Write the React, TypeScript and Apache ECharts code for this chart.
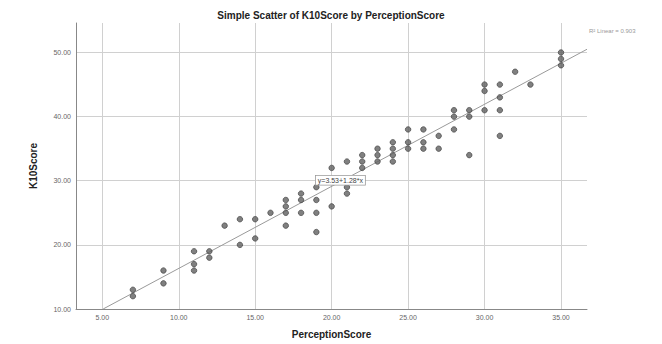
import React, { useEffect, useRef } from "react";
import * as echarts from "echarts";

const xValues = [7, 7, 9, 9, 11, 11, 11, 12, 12, 13, 14, 14, 15, 15, 16, 17, 17, 17, 17, 18, 18, 18, 19, 19, 19, 19, 20, 20, 21, 21, 21, 22, 22, 22, 23, 23, 23, 24, 24, 24, 24, 25, 25, 25, 26, 26, 26, 27, 27, 28, 28, 28, 29, 29, 29, 30, 30, 30, 31, 31, 31, 31, 32, 33, 35, 35, 35];
const yValues = [13, 12, 16, 14, 19, 17, 16, 19, 18, 23, 24, 20, 24, 21, 25, 27, 26, 25, 23, 28, 27, 25, 29, 27, 25, 22, 32, 26, 33, 29, 28, 34, 33, 32, 35, 34, 33, 36, 35, 34, 33, 38, 36, 35, 38, 36, 35, 37, 35, 41, 40, 38, 41, 40, 34, 45, 44, 41, 45, 43, 41, 37, 47, 45, 50, 49, 48];
const fitIntercept = 3.53;
const fitSlope = 1.28;
const xRange = [3.28, 36.7];
const yRange = [10, 54.6];
const titleText = "Simple Scatter of K10Score by PerceptionScore";
const xName = "PerceptionScore";
const yName = "K10Score";
const fitLabel = "y=3.53+1.28*x";
const r2Label = "R\u00B2 Linear = 0.903";

export default function App() {
  const ref = useRef<HTMLDivElement>(null);
  useEffect(() => {
    if (!ref.current) return;
    const chart = echarts.init(ref.current, null, { renderer: "svg" });
    const points = xValues.map((x, i) => [x, yValues[i]]);
    const xStart = (yRange[0] - fitIntercept) / fitSlope;
    const fitLine = [
      [xStart, fitIntercept + fitSlope * xStart],
      [xRange[1], fitIntercept + fitSlope * xRange[1]],
    ];
    const font = "Liberation Sans, Arial, sans-serif";
    chart.setOption({
      animation: false,
      backgroundColor: "#ffffff",
      textStyle: { fontFamily: font },
      title: {
        text: titleText,
        left: "center",
        top: 5,
        textStyle: { fontSize: 10, fontWeight: "bold", color: "#222", fontFamily: font },
      },
      grid: { left: 76, right: 75, top: 23, bottom: 34, containLabel: false },
      xAxis: {
        type: "value",
        min: xRange[0],
        max: xRange[1],
        minInterval: 5,
        maxInterval: 5,
        name: xName,
        nameLocation: "middle",
        nameGap: 20,
        nameTextStyle: { fontSize: 10, fontWeight: "bold", color: "#222" },
        axisLine: { show: true, lineStyle: { color: "#888", width: 1 } },
        axisTick: { show: false },
        axisLabel: {
          fontSize: 7,
          color: "#666",
          margin: 5,
          formatter: (v: number) => (Math.abs(v % 5) < 1e-6 ? v.toFixed(2) : ""),
        },
        splitLine: { show: true, showMinLine: false, showMaxLine: false, lineStyle: { color: "#d0d0d0", width: 1 } },
      },
      yAxis: {
        type: "value",
        min: yRange[0],
        max: yRange[1],
        minInterval: 10,
        maxInterval: 10,
        name: yName,
        nameLocation: "middle",
        nameGap: 38,
        nameTextStyle: { fontSize: 10, fontWeight: "bold", color: "#222" },
        axisLine: { show: true, lineStyle: { color: "#888", width: 1 } },
        axisTick: { show: false },
        axisLabel: {
          fontSize: 7,
          color: "#666",
          margin: 5,
          formatter: (v: number) => (Math.abs(v % 10) < 1e-6 ? v.toFixed(2) : ""),
        },
        splitLine: { show: true, showMinLine: false, showMaxLine: false, lineStyle: { color: "#d0d0d0", width: 1 } },
      },
      series: [
        {
          type: "line",
          data: fitLine,
          symbol: "none",
          silent: true,
          lineStyle: { color: "#9a9a9a", width: 1 },
          z: 1,
        },
        {
          type: "scatter",
          data: points,
          symbol: "circle",
          symbolSize: 5.5,
          itemStyle: { color: "#606060", borderColor: "#3a3a3a", borderWidth: 0.8 },
          z: 3,
        },
      ],
      graphic: [
        {
          type: "text",
          left: 315,
          top: 175,
          z: 10,
          style: {
            text: fitLabel,
            font: "7px Liberation Sans, Arial, sans-serif",
            fill: "#444",
            backgroundColor: "#ffffff",
            borderColor: "#999",
            borderWidth: 0.8,
            padding: [1, 2],
          },
        },
        {
          type: "text",
          left: 589,
          top: 28,
          style: {
            text: r2Label,
            font: "6px Liberation Sans, Arial, sans-serif",
            fill: "#999",
          },
        },
      ],
    });
    return () => chart.dispose();
  }, []);
  return <div ref={ref} style={{ position: "fixed", left: 0, top: 0, width: 662, height: 344 }} />;
}
